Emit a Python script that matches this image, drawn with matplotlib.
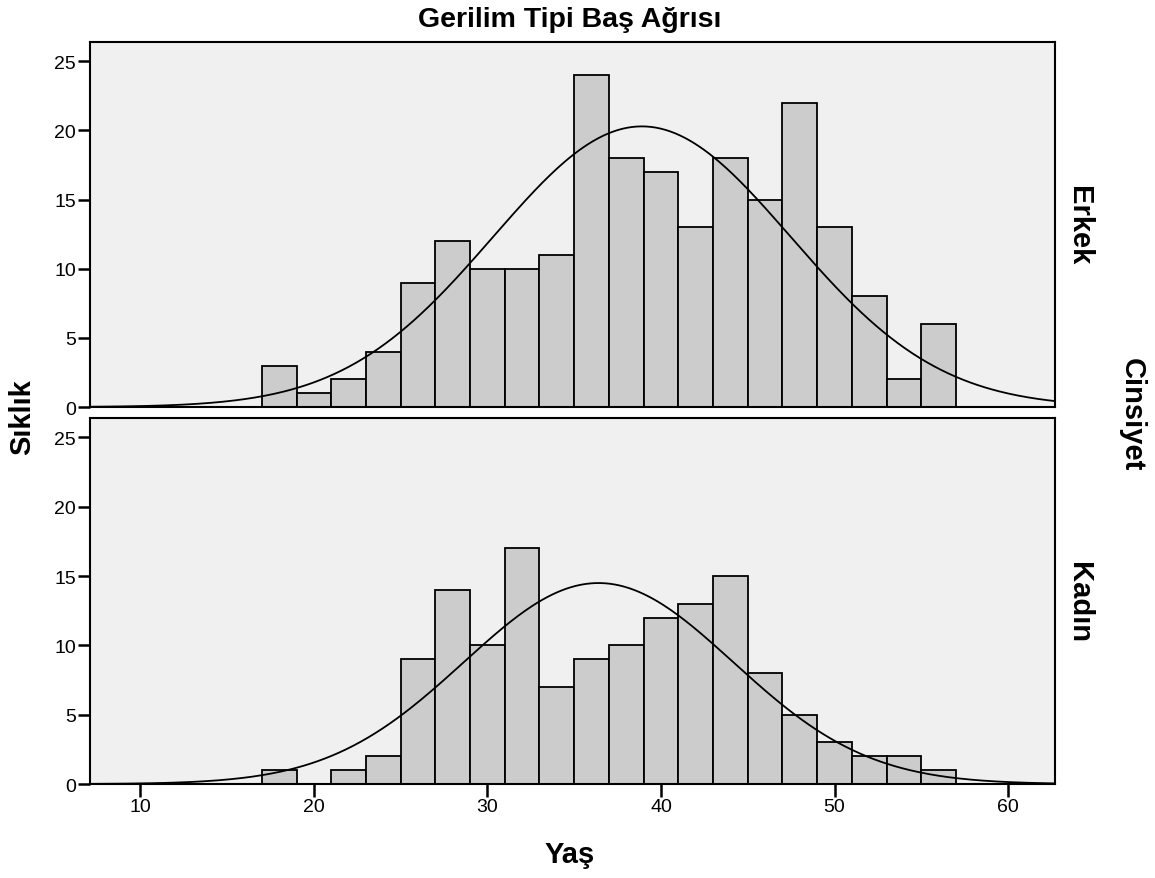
import matplotlib.pyplot as plt
import numpy as np

plt.rcParams['font.family'] = ['Liberation Sans', 'DejaVu Sans']

# bin edges (Yaş), width 2 from 17 to 57
edges = np.arange(17, 59, 2)

erkek_counts = [3, 1, 2, 4, 9, 12, 10, 10, 11, 24, 18, 17, 13, 18, 15, 22, 13, 8, 2, 6]
kadin_counts = [1, 0, 1, 2, 9, 14, 10, 17, 7, 9, 10, 12, 13, 15, 8, 5, 3, 2, 2, 1]

# normal curve parameters
erkek_mean, erkek_sd = 38.9, 8.57
kadin_mean, kadin_sd = 36.4, 7.76

panels = [('Erkek', erkek_counts, erkek_mean, erkek_sd),
          ('Kadın', kadin_counts, kadin_mean, kadin_sd)]

fig = plt.figure(figsize=(11.55, 8.79), dpi=100)
ax_top = fig.add_axes([0.0779, 0.5358, 0.8355, 0.4153])
ax_bot = fig.add_axes([0.0779, 0.1069, 0.8355, 0.4164])

xs = np.linspace(7.1, 62.7, 400)
for ax, (name, counts, mu, sd) in zip([ax_top, ax_bot], panels):
    ax.set_facecolor('#f0f0f0')
    counts = np.array(counts)
    keep = counts > 0
    ax.bar(edges[:-1][keep], counts[keep], width=2, align='edge',
           color='#cccccc', edgecolor='black', linewidth=1.3, zorder=2)
    n = counts.sum()
    pdf = n * 2 / (sd * np.sqrt(2 * np.pi)) * np.exp(-0.5 * ((xs - mu) / sd) ** 2)
    ax.plot(xs, pdf, color='black', linewidth=1.3, zorder=3)
    ax.set_xlim(7.1, 62.7)
    ax.set_ylim(0, 26.4)
    ax.set_yticks([0, 5, 10, 15, 20, 25])
    ax.set_xticks([10, 20, 30, 40, 50, 60])
    ax.tick_params(axis='both', labelsize=14, width=1.8, length=9, pad=1, direction='out')
    for s in ax.spines.values():
        s.set_linewidth(1.5)
    ax.text(1.025, 0.5, name, transform=ax.transAxes, rotation=-90,
            ha='center', va='center', fontsize=21, fontweight='bold')

ax_top.tick_params(axis='x', bottom=False, labelbottom=False)

fig.text(0.4935, 0.977, 'Gerilim Tipi Baş Ağrısı', ha='center', va='center',
         fontsize=20.5, fontweight='bold')
fig.text(0.4935, 0.027, 'Yaş', ha='center', va='center', fontsize=21, fontweight='bold')
fig.text(0.019, 0.525, 'Sıklık', ha='center', va='center', rotation=90,
         fontsize=21, fontweight='bold')
fig.text(0.98, 0.528, 'Cinsiyet', ha='center', va='center', rotation=-90,
         fontsize=21, fontweight='bold')

plt.savefig('out.png', dpi=100)
